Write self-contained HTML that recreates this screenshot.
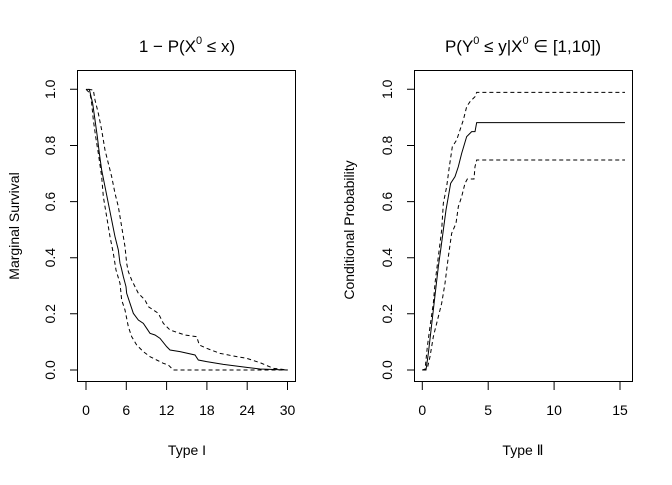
<!DOCTYPE html>
<html><head><meta charset="utf-8"><style>
body{margin:0;background:#fff}
svg text{font-family:"Liberation Sans","DejaVu Sans",sans-serif;fill:#000}
</style></head><body>
<svg width="672" height="480" xmlns="http://www.w3.org/2000/svg">
<rect width="672" height="480" fill="#fff"/>
<!-- Titles -->
<text x="187" y="52" font-size="17" text-anchor="middle">1 − P(X<tspan font-size="11" dy="-8">0</tspan><tspan dy="8"> ≤ x)</tspan></text>
<text x="523" y="52" font-size="17" text-anchor="middle">P(Y<tspan font-size="11" dy="-8">0</tspan><tspan dy="8"> ≤ y|X</tspan><tspan font-size="11" dy="-8">0</tspan><tspan dy="8"> ∈ [1,10])</tspan></text>

<!-- Left panel -->
<rect x="77.5" y="70.5" width="218" height="311" fill="none" stroke="#000"/>
<g stroke="#000" fill="none">
<path d="M77 89.3h-7M77 145.5h-7M77 201.6h-7M77 257.7h-7M77 313.8h-7M77 370h-7"/>
<path d="M86 382v8M126.3 382v8M166.6 382v8M206.9 382v8M247.2 382v8M287.5 382v8"/>
</g>
<g font-size="14" text-anchor="middle">
<text transform="translate(50,89.3) rotate(-90)" y="5">1.0</text>
<text transform="translate(50,145.5) rotate(-90)" y="5">0.8</text>
<text transform="translate(50,201.6) rotate(-90)" y="5">0.6</text>
<text transform="translate(50,257.7) rotate(-90)" y="5">0.4</text>
<text transform="translate(50,313.8) rotate(-90)" y="5">0.2</text>
<text transform="translate(50,370) rotate(-90)" y="5">0.0</text>
<text x="86" y="415">0</text><text x="126.3" y="415">6</text><text x="166.6" y="415">12</text>
<text x="206.9" y="415">18</text><text x="247.2" y="415">24</text><text x="287.5" y="415">30</text>
<text x="187" y="455">Type I</text>
<text transform="translate(19,226) rotate(-90)">Marginal Survival</text>
</g>
<g transform="translate(60,70) scale(0.33333)" fill="none" stroke="#000" stroke-width="3">
<polyline points="78,58 88,58 92,75 98,100 105,150 112,200 118,250 125,300 135,350 145,400 155,450 165,500 175,540 180,580 183,590 190,620 198,650 200,670 210,700 220,730 235,750 250,760 260,775 270,790 285,795 300,805 320,830 330,840 360,845 405,855 415,870 440,875 490,883 560,892 600,897 683,900"/>
<g stroke-dasharray="12,9">
<polyline points="85,58 100,60 105,90 115,130 125,180 135,240 145,280 155,320 165,370 175,410 185,470 195,530 200,580 205,605 215,630 235,670 255,690 265,710 280,720 295,730 310,760 330,780 345,785 375,795 410,800 418,825 440,835 480,850 520,858 560,865 600,878 640,895 683,900"/>
<polyline points="78,58 90,70 95,100 100,150 107,200 115,250 125,320 130,380 140,440 150,500 160,550 168,600 180,640 185,690 195,720 205,770 215,800 230,825 250,845 270,860 290,870 310,880 325,885 340,900 683,900"/>
</g>
</g>

<!-- Right panel -->
<rect x="414.5" y="70.5" width="218" height="311" fill="none" stroke="#000"/>
<g stroke="#000" fill="none">
<path d="M414 89.3h-7M414 145.5h-7M414 201.6h-7M414 257.7h-7M414 313.8h-7M414 370h-7"/>
<path d="M422.3 382v8M488.2 382v8M554.1 382v8M620 382v8"/>
</g>
<g font-size="14" text-anchor="middle">
<text transform="translate(387,89.3) rotate(-90)" y="5">1.0</text>
<text transform="translate(387,145.5) rotate(-90)" y="5">0.8</text>
<text transform="translate(387,201.6) rotate(-90)" y="5">0.6</text>
<text transform="translate(387,257.7) rotate(-90)" y="5">0.4</text>
<text transform="translate(387,313.8) rotate(-90)" y="5">0.2</text>
<text transform="translate(387,370) rotate(-90)" y="5">0.0</text>
<text x="422.3" y="415">0</text><text x="488.2" y="415">5</text><text x="554.1" y="415">10</text><text x="620" y="415">15</text>
<text x="523" y="455">Type Ⅱ</text>
<text transform="translate(354,230) rotate(-90)">Conditional Probability</text>
</g>
<g transform="translate(390,70) scale(0.33333)" fill="none" stroke="#000" stroke-width="3">
<polyline points="97,900 108,900 115,850 122,790 130,720 138,650 145,590 152,540 160,480 168,420 175,380 182,340 195,320 205,290 215,250 230,200 245,185 255,185 260,158 705,158"/>
<g stroke-dasharray="12,9">
<polyline points="97,900 105,900 112,830 120,770 130,700 135,640 145,560 155,480 160,400 170,350 178,290 187,230 200,210 210,180 220,150 230,110 240,95 255,80 260,67 705,67"/>
<polyline points="97,900 112,895 120,860 130,800 140,760 155,700 165,640 175,560 185,490 198,460 205,410 215,380 225,340 232,327 252,327 255,290 260,270 705,270"/>
</g>
</g>
</svg>
</body></html>
